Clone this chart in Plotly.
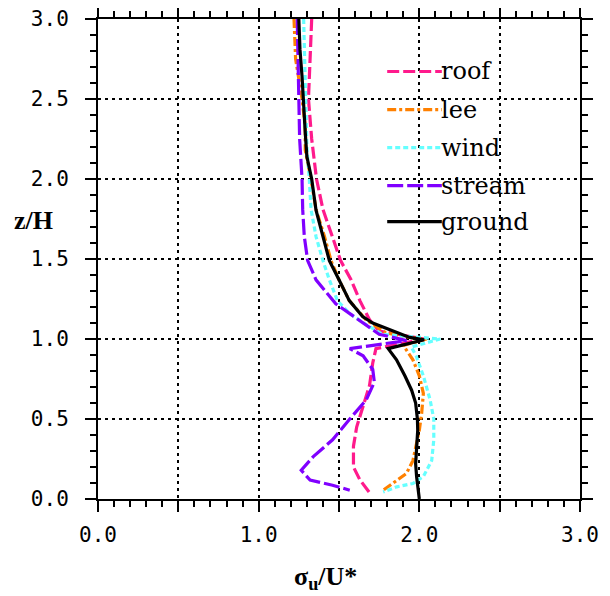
import plotly.graph_objects as go

# ---- data ----
roof_z = [3.0, 2.75, 2.5, 2.25, 2.0, 1.81, 1.64, 1.49, 1.37, 1.24, 1.12, 1.05, 1.0, 0.94, 0.85, 0.71, 0.58, 0.45, 0.33, 0.20, 0.12, 0.04]
roof_x = [1.33, 1.32, 1.31, 1.33, 1.36, 1.40, 1.46, 1.51, 1.575, 1.63, 1.69, 1.75, 2.03, 1.73, 1.71, 1.69, 1.65, 1.61, 1.59, 1.59, 1.63, 1.69]

lee_z = [3.0, 2.75, 2.5, 2.33, 2.18, 2.0, 1.81, 1.64, 1.49, 1.37, 1.24, 1.12, 1.04, 1.01, 1.0, 0.96, 0.87, 0.77, 0.66, 0.54, 0.43, 0.33, 0.24, 0.16, 0.10, 0.055]
lee_x = [1.22, 1.23, 1.27, 1.29, 1.29, 1.326, 1.357, 1.41, 1.45, 1.50, 1.564, 1.668, 1.79, 1.94, 2.045, 1.90, 1.96, 2.00, 2.025, 2.015, 2.00, 1.98, 1.96, 1.92, 1.84, 1.775]

wind_z = [3.0, 2.5, 2.2, 2.0, 1.81, 1.64, 1.49, 1.37, 1.24, 1.16, 1.09, 1.03, 1.0, 0.95, 0.895, 0.77, 0.62, 0.50, 0.37, 0.24, 0.14, 0.097, 0.076, 0.044]
wind_x = [1.28, 1.29, 1.30, 1.315, 1.326, 1.357, 1.40, 1.44, 1.49, 1.565, 1.668, 1.77, 2.13, 1.95, 1.98, 2.025, 2.067, 2.09, 2.09, 2.077, 2.025, 1.96, 1.86, 1.775]

stream_z = [3.0, 2.75, 2.5, 2.25, 2.0, 1.81, 1.64, 1.49, 1.37, 1.29, 1.22, 1.16, 1.09, 1.03, 0.99, 0.94, 0.895, 0.81, 0.73, 0.62, 0.50, 0.37, 0.265, 0.18, 0.118, 0.086, 0.055]
stream_x = [1.24, 1.245, 1.25, 1.255, 1.27, 1.274, 1.284, 1.305, 1.357, 1.42, 1.48, 1.565, 1.668, 1.75, 1.92, 1.567, 1.65, 1.71, 1.72, 1.67, 1.567, 1.46, 1.34, 1.265, 1.32, 1.46, 1.567]

ground_z = [3.0, 2.81, 2.64, 2.5, 2.29, 2.14, 2.0, 1.805, 1.64, 1.49, 1.37, 1.24, 1.14, 1.10, 1.01, 0.995, 0.94, 0.87, 0.77, 0.68, 0.60, 0.50, 0.43, 0.33, 0.22, 0.14, 0.0]
ground_x = [1.25, 1.257, 1.27, 1.28, 1.29, 1.30, 1.33, 1.357, 1.398, 1.44, 1.50, 1.564, 1.647, 1.71, 1.94, 2.03, 1.806, 1.858, 1.91, 1.952, 1.977, 1.988, 1.99, 1.983, 1.977, 1.983, 2.00]

series_names = ["roof", "lee", "wind", "stream", "ground"]
series_x = [roof_x, lee_x, wind_x, stream_x, ground_x]
series_z = [roof_z, lee_z, wind_z, stream_z, ground_z]

tick_vals = [0.0, 0.5, 1.0, 1.5, 2.0, 2.5, 3.0]
x_tick_text = ["0.0", "", "1.0", "", "2.0", "", "3.0"]
y_tick_text = ["0.0", "0.5", "1.0", "1.5", "2.0", "2.5", "3.0"]

# ---- styles ----
colors = ["#ff1a8c", "#ff8000", "#66ffff", "#8000ff", "#000000"]
dashes = ["12px,4px", "9px,3px,3px,3px", "5px,3px", "16px,4px", "solid"]
legend_z = [2.672, 2.434, 2.196, 1.958, 1.733]

fig = go.Figure()
for name, xs, zs, c, d in zip(series_names, series_x, series_z, colors, dashes):
    fig.add_trace(go.Scatter(x=xs, y=zs, mode="lines", name=name,
                             line=dict(color=c, width=3.2, dash=d), showlegend=False))

shapes = []
annotations = []
for name, c, d, lz in zip(series_names, colors, dashes, legend_z):
    shapes.append(dict(type="line", xref="x", yref="y", x0=1.80, x1=2.14, y0=lz, y1=lz,
                       line=dict(color=c, width=3.2, dash=d)))
    annotations.append(dict(xref="x", yref="y", x=2.12, y=lz, text=name, showarrow=False,
                            xanchor="left", yanchor="middle",
                            font=dict(family="DejaVu Serif", size=24, color="black")))

annotations.append(dict(xref="paper", yref="paper", x=0.473, y=-0.165,
                        text="<b>σ<sub>u</sub>/U*</b>", showarrow=False,
                        xanchor="center", yanchor="middle",
                        font=dict(family="Liberation Serif", size=26, color="black")))
annotations.append(dict(xref="paper", yref="paper", x=-0.133, y=0.581,
                        text="<b>z/H</b>", showarrow=False,
                        xanchor="center", yanchor="middle",
                        font=dict(family="Liberation Serif", size=26, color="black")))

axis_common = dict(
    range=[0, 3], tickmode="array", tickvals=tick_vals, automargin=False,
    ticklabeloverflow="allow",
    showgrid=True, gridcolor="black", gridwidth=1.5, griddash="3px,4px",
    showline=True, linecolor="black", linewidth=2, mirror="allticks",
    ticks="outside", ticklen=11, tickwidth=1.5, tickcolor="black",
    minor=dict(dtick=0.1, ticks="outside", ticklen=6, tickwidth=1.5, tickcolor="black", showgrid=False),
    zeroline=False,
    tickfont=dict(family="DejaVu Sans Mono", size=21, color="black"),
)

fig.update_layout(
    width=610, height=596,
    margin=dict(l=90, r=38, t=11, b=105),
    paper_bgcolor="white", plot_bgcolor="white",
    xaxis=dict(axis_common, ticktext=x_tick_text, ticklabelstandoff=5),
    yaxis=dict(axis_common, ticktext=y_tick_text, ticklabelstandoff=12),
    shapes=shapes, annotations=annotations, showlegend=False,
)

fig.write_html("out.html")
